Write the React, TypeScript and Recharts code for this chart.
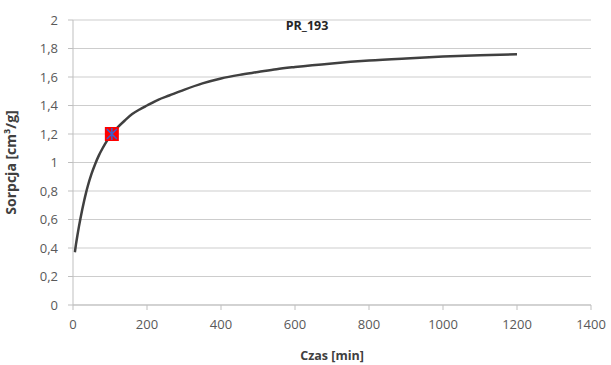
import React from "react";
import {
  CartesianGrid,
  ComposedChart,
  Line,
  Scatter,
  XAxis,
  YAxis,
} from "recharts";

// czas [min]
const czas = [5, 8, 12, 16, 20, 25, 30, 35, 40, 50, 60, 70, 80, 90, 105, 120, 140, 160, 180, 200, 230, 260, 300, 350, 400, 450, 500, 550, 600, 700, 800, 900, 1000, 1100, 1200];
// sorpcja [cm3/g]
const sorpcja = [0.37, 0.425, 0.49, 0.55, 0.605, 0.67, 0.73, 0.785, 0.835, 0.92, 0.99, 1.05, 1.1, 1.145, 1.2, 1.245, 1.295, 1.34, 1.372, 1.4, 1.44, 1.47, 1.51, 1.555, 1.59, 1.615, 1.635, 1.655, 1.67, 1.695, 1.715, 1.73, 1.743, 1.753, 1.76];

const punktCzas = [105];
const punktSorpcja = [1.2];

const xTicks = [0, 200, 400, 600, 800, 1000, 1200, 1400];
const yTicks = [0, 0.2, 0.4, 0.6, 0.8, 1, 1.2, 1.4, 1.6, 1.8, 2];

const curve = czas.map((t, i) => ({ t, v: sorpcja[i] }));
const marker = punktCzas.map((t, i) => ({ t, v: punktSorpcja[i] }));

const FONT = "'Open Sans', sans-serif";
const tickStyle = { fontFamily: FONT, fontSize: 13, fill: "#595959" };

const fmt = (v: number) => String(Math.round(v * 10) / 10).replace(".", ",");

function StarSquare(props: any) {
  const { cx, cy } = props;
  if (cx == null || cy == null) return null;
  const s = 7;
  return (
    <g>
      <rect x={cx - s} y={cy - s} width={s * 2} height={s * 2} fill="#ff0000" />
      <path
        d={`M${cx - 5},${cy - 5}L${cx + 5},${cy + 5}M${cx + 5},${cy - 5}L${cx - 5},${cy + 5}M${cx},${cy - 6}L${cx},${cy + 6}`}
        stroke="#3a5fcd"
        strokeWidth={1.5}
      />
    </g>
  );
}

export default function App() {
  return (
    <div style={{ position: "fixed", left: 0, top: 0, width: 611, height: 365, background: "#fff" }}>
      <ComposedChart
        width={611}
        height={365}
        margin={{ top: 20, right: 20, left: 0, bottom: 0 }}
      >
        <CartesianGrid vertical={false} stroke="#cdcdcd" />
        <XAxis
          type="number"
          dataKey="t"
          domain={[0, 1400]}
          ticks={xTicks}
          height={60}
          tickSize={5}
          tickMargin={10}
          stroke="#bfbfbf"
          tick={tickStyle}
          label={{
            value: "Czas [min]",
            position: "insideBottom",
            offset: 5,
            style: { fontFamily: FONT, fontSize: 12.5, fontWeight: 700, fill: "#404040" },
          }}
        />
        <YAxis
          type="number"
          domain={[0, 2]}
          ticks={yTicks}
          width={73}
          tickSize={5}
          tickMargin={10}
          stroke="#bfbfbf"
          tick={tickStyle}
          tickFormatter={fmt}
          label={{
            value: "Sorpcja [cm³/g]",
            angle: -90,
            position: "insideLeft",
            offset: 11,
            style: { fontFamily: FONT, fontSize: 14, fontWeight: 700, fill: "#404040", textAnchor: "middle" },
          }}
        />
        <Line
          data={curve}
          dataKey="v"
          type="monotone"
          stroke="#404040"
          strokeWidth={2.5}
          dot={false}
          isAnimationActive={false}
        />
        <Scatter
          data={marker}
          dataKey="v"
          shape={<StarSquare />}
          isAnimationActive={false}
        />
      </ComposedChart>
      <div
        style={{
          position: "absolute",
          left: 257,
          width: 100,
          top: 17,
          textAlign: "center",
          fontFamily: FONT,
          fontSize: 12.5,
          fontWeight: 700,
          color: "#262626",
        }}
      >
        PR_193
      </div>
    </div>
  );
}
